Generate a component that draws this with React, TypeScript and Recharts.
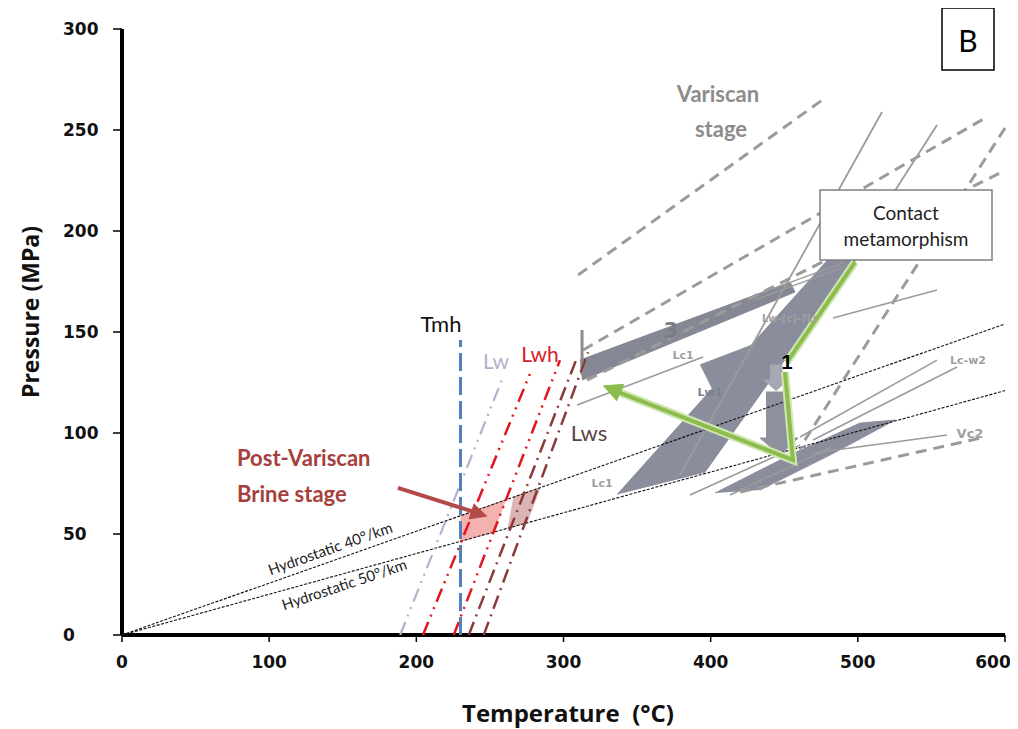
import React from 'react';
import { ScatterChart, Scatter, XAxis, YAxis } from 'recharts';

type Pt = { x: number; y: number };
const pts = (...a: [number, number][]): Pt[] => a.map(([x, y]) => ({ x, y }));

// ---- axis ticks ----
const temperatureTicks = [0, 100, 200, 300, 400, 500, 600];
const pressureTicks = [0, 50, 100, 150, 200, 250, 300];

// ---- hydrostatic gradients ----
const hydro40 = pts([0, 0], [600, 154]);
const hydro50 = pts([0, 0], [600, 121]);

// ---- post-Variscan brine isochores ----
const tmh = pts([230, 0], [230, 146]);
const lw = pts([189, 0], [258, 126]);
const lwh1 = pts([204.5, 0], [277.6, 130]);
const lwh2 = pts([225.4, 0], [297.6, 136]);
const lws1 = pts([235.6, 0], [308.5, 136]);
const lws2 = pts([245.8, 0], [316.7, 140]);
const brinePink1 = pts([230, 59], [260.7, 66.9], [252.2, 50.9], [230, 46.4]);
const brinePink2 = pts([266, 68.3], [284.2, 73], [275, 55.5], [262, 52.8]);
const brineArrow = pts([187.5, 72.8], [237.6, 61.3]);
const brineArrowHead = pts([248, 58.9], [235.9, 57.5], [239.3, 65]);

// ---- Variscan stage isochores (dashed) ----
const varDash1 = pts([309.9, 178.2], [477.7, 265.8]);
const varDash2 = pts([313.3, 141.1], [586.4, 255.9]);
const varDash3 = pts([316, 126.2], [600, 230]);
const varDash4 = pts([600, 251], [464, 96.5]);
const varDash5 = pts([420, 70.8], [586.4, 98]);
const varBar = pts([312.6, 151], [312.6, 128.7]);

// ---- Variscan thin solid isochores ----
const solid1 = pts([379.2, 79.2], [516.4, 258.9]);
const solid2 = pts([553.8, 252.5], [501.5, 193]);
const lc1Line = pts([309.2, 113.9], [394.8, 137.6]);
const lwcLine = pts([483.1, 156.9], [553.8, 170.8]);
const lcw2a = pts([460.7, 98], [553.8, 136.1]);
const lcw2b = pts([469.5, 96.5], [567.4, 132.7]);
const vc2Line = pts([469.5, 90.1], [560.6, 99]);
const fan1 = pts([386, 69.3], [460.7, 94]);
const fan2 = pts([413.1, 69.3], [481.1, 92.6]);
const dbl1 = pts([428.8, 167.8], [491.3, 184.6]);
const dbl2 = pts([428.8, 165.6], [491.3, 182.4]);

// ---- Variscan fluid-inclusion fields ----
const band3 = pts([311.2, 136.1], [453.9, 174.7], [457.3, 169.8], [312.6, 126.2]);
const mainBand = pts([336.4, 69.8], [396.2, 80.7], [508.3, 195.5], [491.3, 195.5]);
const wing = pts([392.8, 133.7], [436.9, 146], [433.5, 131.2], [403, 118.8]);
const arrowBlock = pts([437.6, 120.3], [453.9, 120.3], [453.9, 97.5], [459.4, 97.5], [447.1, 89.1], [433.5, 97.5], [437.6, 97.5]);
const smallArrow = pts([440.3, 133.7], [448.5, 133.7], [448.5, 126.2], [452.6, 126.2], [444.4, 121], [436.3, 126.2], [440.3, 126.2]);
const lowerWedge = pts([403, 70.3], [453.9, 89.1], [501.5, 104.9], [525.3, 106.4], [481.1, 89.1], [433.5, 71.8]);

// ---- P-T path (green) ----
const green1 = pts([498.1, 184.6], [451.9, 135.1]);
const green2 = pts([450.5, 130.2], [455.9, 86.6], [338.2, 120]);
const greenHead = pts([326.9, 123.3], [340.9, 124.1], [336, 115.8]);

const NoDot = () => <g />;

function lineSeries(key: string, data: Pt[], stroke: string, width: number, dash?: string) {
  const line: any = { stroke, strokeWidth: width, fill: 'none', strokeLinecap: 'butt' };
  if (dash) line.strokeDasharray = dash;
  return (
    <Scatter key={key} data={data} isAnimationActive={false} shape={NoDot} legendType="none" line={line} />
  );
}

function areaSeries(key: string, data: Pt[], fill: string, opacity = 1) {
  return (
    <Scatter
      key={key}
      data={data}
      isAnimationActive={false}
      shape={NoDot}
      legendType="none"
      line={{ stroke: fill, strokeWidth: 1, fill, fillOpacity: opacity, strokeOpacity: opacity }}
    />
  );
}

const XTick = (p: any) => {
  const v = Number(p.payload && p.payload.value);
  const shift = v >= 600 ? -12 : 0;
  return (
    <text
      x={Number(p.x) + shift}
      y={p.y}
      dy="0.75em"
      textAnchor="middle"
      fontFamily="DejaVu Sans"
      fontWeight="bold"
      fontSize={17}
      fill="#111"
    >
      {v}
    </text>
  );
};
const YTick = (p: any) => (
  <text x={p.x} y={p.y} dominantBaseline="central" textAnchor="start" fontFamily="DejaVu Sans" fontWeight="bold" fontSize={17} fill="#111">
    {p.payload.value}
  </text>
);

const GREY = '#9b9b9b';
const FIELD = '#8a8e9c';
const small = { fontFamily: 'DejaVu Sans', fontWeight: 'bold' as const, fontSize: 11, fill: '#a0a0a0', textAnchor: 'middle' as const, dominantBaseline: 'central' as const };
const calib = 'Lato, "Open Sans", sans-serif';

export default function App() {
  return (
    <div style={{ position: 'relative', width: 1010, height: 721 }}>
      <ScatterChart width={1010} height={721} margin={{ top: 21, right: 13, bottom: 54, left: 54 }} style={{ overflow: 'visible' }}>
        <XAxis
          type="number"
          dataKey="x"
          domain={[0, 600]}
          ticks={temperatureTicks}
          height={40}
          tickSize={7}
          tickMargin={13}
          axisLine={{ stroke: '#000', strokeWidth: 4 }}
          tickLine={{ stroke: '#000', strokeWidth: 1.5 }}
          tick={XTick}
        />
        <YAxis
          type="number"
          dataKey="y"
          domain={[0, 300]}
          ticks={pressureTicks}
          width={60}
          tickSize={9}
          tickMargin={50}
          axisLine={{ stroke: '#000', strokeWidth: 4 }}
          tickLine={{ stroke: '#000', strokeWidth: 1.5 }}
          tick={YTick}
        />
        {areaSeries('pink1', brinePink1, '#f2aaa5', 0.9)}
        {areaSeries('pink2', brinePink2, '#d9acac', 0.9)}
        {areaSeries('mainBand', mainBand, FIELD)}
        {areaSeries('wing', wing, FIELD)}
        {areaSeries('band3', band3, '#858894')}
        {areaSeries('lowerWedge', lowerWedge, FIELD)}
        {areaSeries('arrowBlock', arrowBlock, '#8d909d')}
        {areaSeries('smallArrow', smallArrow, '#a6a9b5')}
        {lineSeries('varDash1', varDash1, GREY, 3, '11 7')}
        {lineSeries('varDash2', varDash2, GREY, 3, '11 7')}
        {lineSeries('varDash3', varDash3, GREY, 3, '11 7')}
        {lineSeries('varDash4', varDash4, GREY, 3, '11 7')}
        {lineSeries('varDash5', varDash5, GREY, 3, '11 7')}
        {lineSeries('varBar', varBar, '#8c8c8c', 3)}
        {lineSeries('solid1', solid1, GREY, 1.8)}
        {lineSeries('solid2', solid2, GREY, 1.8)}
        {lineSeries('lc1Line', lc1Line, GREY, 1.6)}
        {lineSeries('lwcLine', lwcLine, GREY, 1.6)}
        {lineSeries('lcw2a', lcw2a, GREY, 1.6)}
        {lineSeries('lcw2b', lcw2b, GREY, 1.6)}
        {lineSeries('vc2Line', vc2Line, GREY, 1.6)}
        {lineSeries('fan1', fan1, GREY, 1.6)}
        {lineSeries('fan2', fan2, GREY, 1.6)}
        {lineSeries('dbl1', dbl1, GREY, 1.3)}
        {lineSeries('dbl2', dbl2, GREY, 1.3)}
        {lineSeries('hydro40', hydro40, '#111', 1.1, '3 1.5')}
        {lineSeries('hydro50', hydro50, '#111', 1.1, '3 1.5')}
        {lineSeries('lw', lw, '#b7afd0', 2.2, '14 6 2 6 2 6')}
        {lineSeries('lwh1', lwh1, '#e3141b', 2.5, '14 6 2 6 2 6')}
        {lineSeries('lwh2', lwh2, '#e3141b', 2.5, '14 6 2 6 2 6')}
        {lineSeries('lws1', lws1, '#8b3a3a', 2.5, '14 6 2 6')}
        {lineSeries('lws2', lws2, '#8b3a3a', 2.5, '14 6 2 6')}
        {lineSeries('tmh', tmh, '#4f81bd', 3, '18 6')}
        {lineSeries('green1Glow', green1, '#cfe6b3', 8)}
        {lineSeries('green2Glow', green2, '#cfe6b3', 8)}
        {lineSeries('green1', green1, '#8cbc4c', 4)}
        {lineSeries('green2', green2, '#8cbc4c', 4)}
        {areaSeries('greenHead', greenHead, '#8cbc4c')}
        {lineSeries('brineArrow', brineArrow, '#b24a47', 4)}
        {areaSeries('brineArrowHead', brineArrowHead, '#b24a47')}
      </ScatterChart>
      <svg width={1010} height={721} style={{ position: 'absolute', left: 0, top: 0, pointerEvents: 'none' }}>
        <text x={22} y={304} transform="rotate(-90 22 304)" textAnchor="middle" dominantBaseline="central" fontFamily='"Open Sans", sans-serif' fontWeight="bold" fontSize={23} fill="#111">
          Pressure (MPa)
        </text>
        <text x={560} y={704} textAnchor="middle" dominantBaseline="central" fontFamily='"Open Sans", sans-serif' fontWeight="bold" fontSize={24} fill="#111" style={{ whiteSpace: 'pre' }}>
          {'Temperature  (°C)'}
        </text>
        <rect x={934} y={0} width={52} height={62} fill="#fff" stroke="#000" strokeWidth={1.5} />
        <text x={960} y={32} textAnchor="middle" dominantBaseline="central" fontFamily={calib} fontSize={30} fill="#000">B</text>
        <text x={710} y={85} textAnchor="middle" dominantBaseline="central" fontFamily={calib} fontWeight="bold" fontSize={22} fill="#8c8c8c">Variscan</text>
        <text x={713} y={120} textAnchor="middle" dominantBaseline="central" fontFamily={calib} fontWeight="bold" fontSize={22} fill="#8c8c8c">stage</text>
        <rect x={812} y={182} width={172} height={70} fill="#fff" stroke="#808080" strokeWidth={1.5} />
        <text x={898} y={204} textAnchor="middle" dominantBaseline="central" fontFamily={calib} fontSize={19} fill="#222">Contact</text>
        <text x={898} y={230} textAnchor="middle" dominantBaseline="central" fontFamily={calib} fontSize={19} fill="#222">metamorphism</text>
        <text x={433} y={315} textAnchor="middle" dominantBaseline="central" fontFamily={calib} fontSize={22} fill="#111">Tmh</text>
        <text x={488} y={352} textAnchor="middle" dominantBaseline="central" fontFamily={calib} fontSize={21} fill="#b7afd0">Lw</text>
        <text x={532} y={345} textAnchor="middle" dominantBaseline="central" fontFamily={calib} fontSize={21} fill="#d6202a">Lwh</text>
        <text x={581} y={424} textAnchor="middle" dominantBaseline="central" fontFamily={calib} fontSize={22} fill="#5e4444">Lws</text>
        <text x={229} y={449} dominantBaseline="central" fontFamily={calib} fontWeight="bold" fontSize={22} fill="#a5403d">Post-Variscan</text>
        <text x={229} y={485} dominantBaseline="central" fontFamily={calib} fontWeight="bold" fontSize={22} fill="#a5403d">Brine stage</text>
        <text x={322} y={540} transform="rotate(-19.5 322 540)" textAnchor="middle" dominantBaseline="central" fontFamily={calib} fontSize={15} fill="#222">Hydrostatic 40°/km</text>
        <text x={336} y={576} transform="rotate(-18.5 336 576)" textAnchor="middle" dominantBaseline="central" fontFamily={calib} fontSize={15} fill="#222">Hydrostatic 50°/km</text>
        <text x={675} y={347} {...small}>Lc1</text>
        <text x={702} y={384} {...small} fill="#7d808c">Lw1</text>
        <text x={594} y={475} {...small}>Lc1</text>
        <text x={782} y={310} {...small} fontSize={10}>Lw-(c)-?Lr</text>
        <text x={960} y={352} {...small}>Lc-w2</text>
        <text x={962} y={425} {...small} fontSize={13}>Vc2</text>
        <text x={663} y={322} textAnchor="middle" dominantBaseline="central" fontFamily='"DejaVu Sans", sans-serif' fontWeight="bold" fontSize={22} fill="#7a7d88">3</text>
        <text x={779} y={354} textAnchor="middle" dominantBaseline="central" fontFamily='"Liberation Sans", sans-serif' fontWeight="bold" fontSize={20} fill="#000">1</text>
        <text x={795} y={444} textAnchor="middle" dominantBaseline="central" fontFamily='"Liberation Sans", sans-serif' fontWeight="bold" fontSize={17} fill="#8a8d98">2</text>
      </svg>
    </div>
  );
}
